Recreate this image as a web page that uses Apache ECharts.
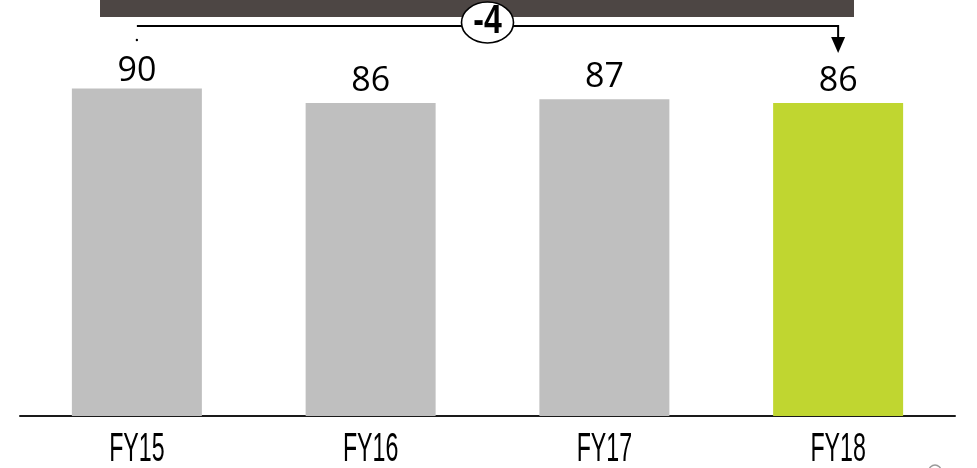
<!DOCTYPE html>
<html>
<head>
<meta charset="utf-8">
<style>
  html, body { margin: 0; padding: 0; background: #ffffff; }
  #chart { width: 977px; height: 468px; }
</style>
<script src="https://cdn.jsdelivr.net/npm/echarts@6/dist/echarts.min.js"></script>
</head>
<body>
<div id="chart"></div>
<script>
// Fiscal years and their values
const categories = ['FY15', 'FY16', 'FY17', 'FY18'];
const values = [90, 86, 87, 86];
const barColors = ['#bfbfbf', '#bfbfbf', '#bfbfbf', '#c0d630'];
const labelGaps = [0, 5, 5, 5];

const chart = echarts.init(document.getElementById('chart'), null, { renderer: 'canvas' });

const option = {
  animation: false,
  backgroundColor: '#ffffff',
  grid: { left: 20, right: 22, top: 52, bottom: 52 },
  xAxis: {
    type: 'category',
    data: categories,
    axisLine: { show: true, lineStyle: { color: '#1a1a1a', width: 2 } },
    axisTick: { show: false },
    axisLabel: { show: false },
    splitLine: { show: false }
  },
  yAxis: {
    type: 'value',
    min: 0,
    max: 100,
    show: false,
    splitLine: { show: false }
  },
  series: [{
    type: 'bar',
    barWidth: 130,
    data: values.map((v, i) => ({
      value: v,
      itemStyle: { color: barColors[i] },
      label: { distance: labelGaps[i] }
    })),
    label: {
      show: true,
      position: 'top',
      color: '#000000',
      fontFamily: 'Open Sans',
      fontSize: 34
    }
  }]
};
chart.setOption(option);

// Overlay: header band, change bracket and condensed category labels
const px = categories.map((c, i) => chart.convertToPixel({ xAxisIndex: 0, yAxisIndex: 0 }, [i, 0]));
const xStart = px[0][0];
const xEnd = px[px.length - 1][0];
const xMid = (xStart + xEnd) / 2;
const change = values[values.length - 1] - values[0];
const lineY = 26;

const graphics = [
  { type: 'rect', shape: { x: 100, y: 0, width: 754, height: 17 }, style: { fill: '#4d4644' }, z: 10 },
  { type: 'polyline', shape: { points: [[xStart, lineY], [xEnd, lineY], [xEnd, 38]] },
    style: { stroke: '#000000', lineWidth: 2, fill: null }, z: 11 },
  { type: 'polygon', shape: { points: [[xEnd - 7, 37], [xEnd + 7, 37], [xEnd, 53]] },
    style: { fill: '#000000' }, z: 11 },
  { type: 'circle', shape: { cx: xStart, cy: 40, r: 1.2 }, style: { fill: '#000000' }, z: 11 },
  { type: 'ellipse', shape: { cx: xMid, cy: 22.5, rx: 26, ry: 20.5 },
    style: { fill: '#ffffff', stroke: '#000000', lineWidth: 1.6 }, z: 12 },
  { type: 'text', x: xMid, y: 22, scaleX: 0.8, z: 13,
    style: { text: String(change), fontFamily: 'Liberation Sans Narrow, Liberation Sans', fontWeight: 'bold',
      fontSize: 40, fill: '#000000', align: 'center', verticalAlign: 'middle' } },
  { type: 'circle', shape: { cx: 935, cy: 471, r: 6 }, style: { fill: null, stroke: '#9a9a9a', lineWidth: 1.5 }, z: 11 }
];

categories.forEach((c, i) => {
  graphics.push({
    type: 'text', x: px[i][0], y: 450, scaleX: 0.58, z: 13,
    style: { text: c, fontFamily: 'Liberation Sans Narrow, Liberation Sans', fontSize: 40,
      fill: '#000000', align: 'center', verticalAlign: 'middle' }
  });
});

chart.setOption({ graphic: graphics });
</script>
</body>
</html>
